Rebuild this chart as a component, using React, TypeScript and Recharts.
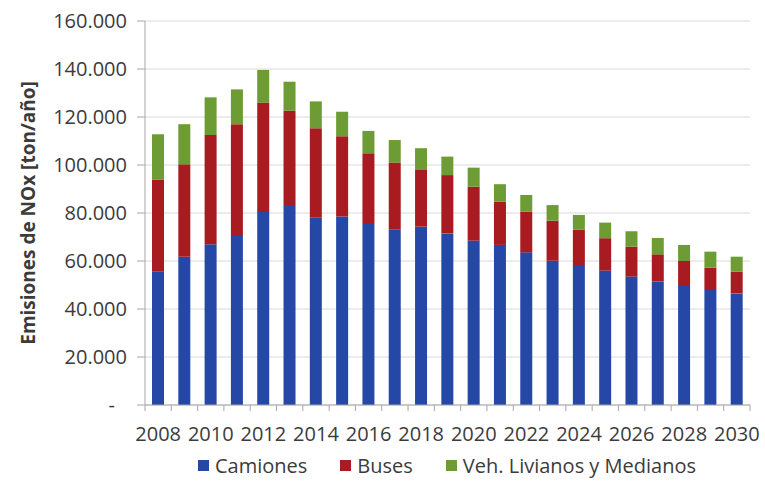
import React from 'react';
import { BarChart, Bar, XAxis, YAxis, CartesianGrid, Legend, Label } from 'recharts';

const years = [
    '2008', '2009', '2010', '2011', '2012', '2013', '2014', '2015', '2016', '2017', '2018', '2019',
    '2020', '2021', '2022', '2023', '2024', '2025', '2026', '2027', '2028', '2029', '2030',
];

// ton/año
const camiones = [
    55500, 61800, 67000, 70400, 80400, 83300, 78000, 78500, 75800, 73000, 74300, 71500,
    68500, 66700, 63600, 60100, 58300, 56000, 53500, 51400, 50000, 47900, 46500,
];
const buses = [
    38300, 38500, 45500, 46600, 45600, 39300, 37300, 33500, 29100, 28000, 23900, 24300,
    22500, 18000, 16900, 16700, 14700, 13500, 12500, 11400, 10000, 9300, 9000,
];
const livianos = [
    19000, 16700, 15700, 14500, 13600, 12100, 11200, 10200, 9300, 9400, 8800, 7700,
    7900, 7300, 7000, 6500, 6200, 6500, 6400, 6800, 6700, 6700, 6300,
];

const yTicks = [0, 20000, 40000, 60000, 80000, 100000, 120000, 140000, 160000];

const seriesInfo = [
    { key: 'camiones', name: 'Camiones', color: '#2547a6' },
    { key: 'buses', name: 'Buses', color: '#a81c21' },
    { key: 'livianos', name: 'Veh. Livianos y Medianos', color: '#6c9c33' },
];

const data = years.map((year, i) => ({
    year,
    camiones: camiones[i],
    buses: buses[i],
    livianos: livianos[i],
}));

const W = 765;
const H = 481;
const margin = { top: 21, right: 15, left: 0, bottom: 0 };
const yAxisWidth = 145;
const plotWidth = W - margin.left - margin.right - yAxisWidth;
const textColor = '#3b3b3b';
const axisColor = '#a6a6a6';
const font = '"Open Sans", sans-serif';

const fmt = (v: number) => (v === 0 ? '-' : `${v / 1000}.000`);

const XTick = (props: any) => {
    const { x, y, payload, index } = props;
    const band = plotWidth / years.length;
    const isLast = index === years.length - 1;
    return (
        <g>
            <line x1={x - band / 2} x2={x - band / 2} y1={y} y2={y + 6} stroke={axisColor} />
            {isLast && <line x1={x + band / 2} x2={x + band / 2} y1={y} y2={y + 6} stroke={axisColor} />}
            {index % 2 === 0 && (
                <text x={x} y={y + 36} textAnchor="middle" fill={textColor} fontSize={20} fontFamily={font}>
                    {payload.value}
                </text>
            )}
        </g>
    );
};

const YTick = (props: any) => {
    const { x, y, payload } = props;
    const zero = payload.value === 0;
    return (
        <text x={zero ? x - 12 : x} y={y + 7} textAnchor="end" fill={textColor} fontSize={20} fontFamily={font}>
            {fmt(payload.value)}
        </text>
    );
};

const YLabel = (props: any) => {
    const { viewBox } = props;
    const cy = viewBox.y + viewBox.height / 2;
    return (
        <text
            x={28}
            y={cy}
            transform={`rotate(-90, 28, ${cy})`}
            textAnchor="middle"
            dominantBaseline="central"
            fill={textColor}
            fontSize={19}
            fontWeight="bold"
            fontFamily={font}
        >
            Emisiones de NOx [ton/año]
        </text>
    );
};

const LegendContent = () => (
    <div style={{ display: 'flex', height: 31, alignItems: 'center', paddingLeft: 198, fontFamily: font, fontSize: 20, color: textColor }}>
        {seriesInfo.map((s) => (
            <div key={s.key} style={{ display: 'flex', alignItems: 'center', marginRight: 33 }}>
                <span style={{ display: 'inline-block', width: 11, height: 11, background: s.color, marginRight: 6 }} />
                <span>{s.name}</span>
            </div>
        ))}
    </div>
);

const App: React.FC = () => {
    return (
        <div style={{ position: 'absolute', left: 0, top: 0, width: W, height: H, background: '#fff' }}>
            <BarChart width={W} height={H} data={data} margin={margin} barSize={12}>
                <CartesianGrid vertical={false} stroke="#d9d9d9" />
                <XAxis
                    dataKey="year"
                    interval={0}
                    height={45}
                    tickSize={0}
                    tickMargin={0}
                    stroke={axisColor}
                    tick={<XTick />}
                />
                <YAxis
                    type="number"
                    domain={[0, 160000]}
                    ticks={yTicks}
                    width={yAxisWidth}
                    tickSize={8}
                    tickMargin={10}
                    stroke={axisColor}
                    tick={<YTick />}
                >
                    <Label content={<YLabel />} />
                </YAxis>
                <Legend verticalAlign="bottom" content={<LegendContent />} />
                {seriesInfo.map((s) => (
                    <Bar key={s.key} dataKey={s.key} name={s.name} stackId="a" fill={s.color} isAnimationActive={false} />
                ))}
            </BarChart>
        </div>
    );
};

export default App;
